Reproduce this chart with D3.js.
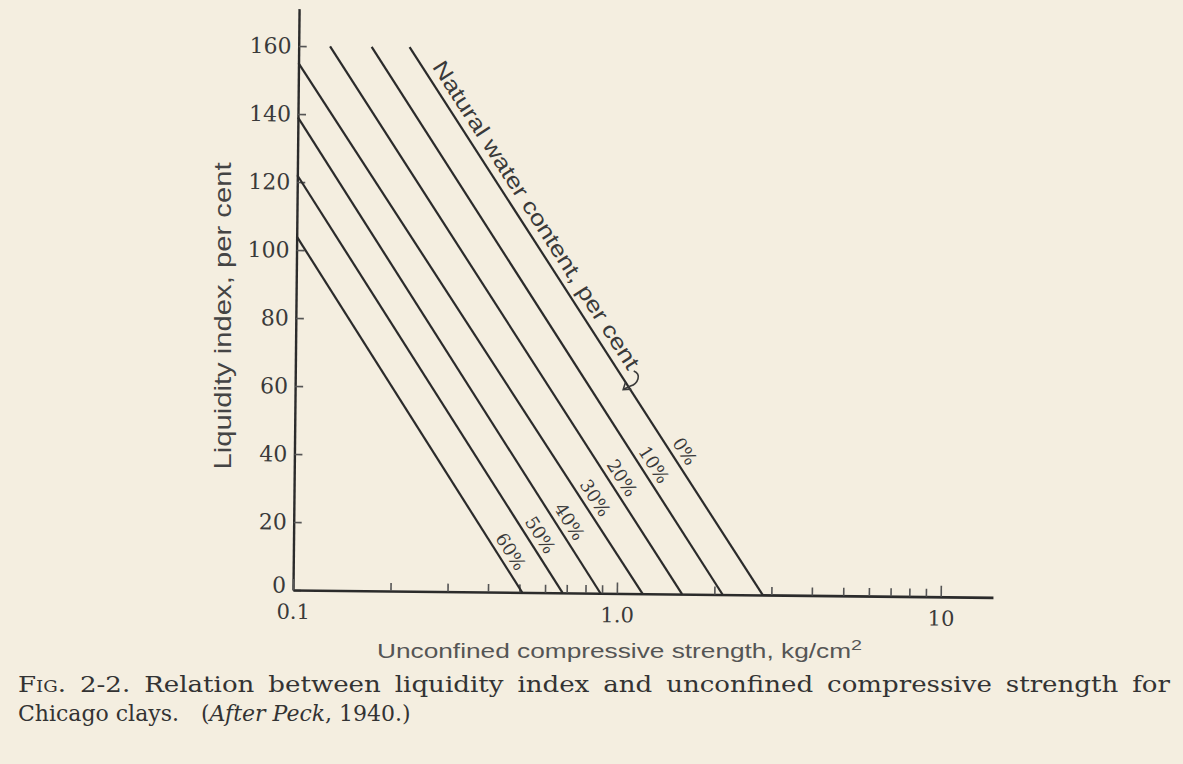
<!DOCTYPE html>
<html>
<head>
<meta charset="utf-8">
<script src="https://cdn.jsdelivr.net/npm/d3@7"></script>
<style>
  html, body { margin: 0; padding: 0; background: #f4eee0; }
  svg { display: block; }
</style>
</head>
<body>
<div id="chart"></div>
<script>
// natural water content curves
const waterContent = ["0%", "10%", "20%", "30%", "40%", "50%", "60%"];
const topStrength = [0.22, 0.168, 0.125, 0.1, 0.1, 0.1, 0.1];
const topIndex = [160, 160, 160, 155, 139, 122, 104];
const baseStrength = [2.82, 2.12, 1.59, 1.2, 0.89, 0.68, 0.51];
const baseIndex = [0, 0, 0, 0, 0, 0, 0];
const labelIndex = [40, 36, 32, 26, 19, 15, 10];

// axes
const yTicks = [0, 20, 40, 60, 80, 100, 120, 140, 160];
const xMajor = [0.1, 1, 10];
const xMajorLabels = ["0.1", "1.0", "10"];
const xMinor = [0.2, 0.3, 0.4, 0.5, 0.6, 0.7, 0.8, 0.9, 2, 3, 4, 5, 6, 7, 8, 9];

const width = 1183, height = 764;
const ink = "#2b2b2b";

let svg = d3.select("#chart")
  .append("svg")
  .attr("width", width)
  .attr("height", height);

svg.append("rect")
  .attr("width", width)
  .attr("height", height)
  .attr("fill", "#f4eee0");

const x = d3.scaleLog().domain([0.1, 14.5]).range([293, 993]);
const y = d3.scaleLinear().domain([0, 171]).range([590, 8.6]);

// the scan is tilted a little
let plot = svg.append("g")
  .attr("transform", "rotate(0.6," + x(0.1) + "," + y(0) + ")");

// y axis, ticks point inward
let yAxis = d3.axisLeft(y)
  .tickValues(yTicks)
  .tickSizeInner(-8)
  .tickSizeOuter(0)
  .tickPadding(7)
  .tickFormat(d3.format("d"));

let gy = plot.append("g")
  .attr("transform", "translate(" + x(0.1) + ",0)")
  .call(yAxis);
gy.select(".domain").attr("stroke", ink).attr("stroke-width", 2.4);
gy.selectAll(".tick line").attr("stroke", "#555").attr("stroke-width", 1.6);
gy.selectAll(".tick text")
  .attr("font-family", "DejaVu Serif, serif")
  .attr("font-size", 22)
  .attr("fill", "#3a3a3a");
// the zero label sits a little higher, clear of 0.1
gy.selectAll(".tick text").filter(d => d === 0).attr("dy", "0.1em");

// x axis: minor ticks then labelled ones
let gxMinor = plot.append("g")
  .attr("transform", "translate(0," + y(0) + ")")
  .call(d3.axisBottom(x).tickValues(xMinor).tickSizeInner(-8).tickSizeOuter(0).tickFormat(""));
gxMinor.select(".domain").attr("stroke", ink).attr("stroke-width", 2.6);
gxMinor.selectAll(".tick line").attr("stroke", "#555").attr("stroke-width", 1.6);

let gxMajor = plot.append("g")
  .attr("transform", "translate(0," + y(0) + ")")
  .call(d3.axisBottom(x).tickValues(xMajor).tickSizeInner(-11).tickSizeOuter(0).tickPadding(14)
    .tickFormat((d, i) => xMajorLabels[i]));
gxMajor.select(".domain").remove();
gxMajor.selectAll(".tick line").attr("stroke", "#555").attr("stroke-width", 1.6);
gxMajor.selectAll(".tick text")
  .attr("font-family", "DejaVu Serif, serif")
  .attr("font-size", 21)
  .attr("fill", "#3a3a3a");

// curves
const line = d3.line()
  .x(d => x(d[0]))
  .y(d => y(d[1]));

const curves = waterContent.map((w, i) => ({
  id: w,
  values: [[topStrength[i], topIndex[i]], [baseStrength[i], baseIndex[i]]],
  label: labelIndex[i]
}));

plot.selectAll("path.curve")
  .data(curves)
  .enter()
  .append("path")
  .attr("class", "curve")
  .attr("d", d => line(d.values))
  .attr("fill", "none")
  .attr("stroke", ink)
  .attr("stroke-width", 2.2);

// point on a curve at a given liquidity index, plus its drawing angle
function pointAt(d, li) {
  const a = d.values[0], b = d.values[1];
  const t = (a[1] - li) / (a[1] - b[1]);
  const lx = Math.log10(a[0]) + t * (Math.log10(b[0]) - Math.log10(a[0]));
  const px = x(Math.pow(10, lx)), py = y(li);
  const ang = Math.atan2(y(b[1]) - y(a[1]), x(b[0]) - x(a[0])) * 180 / Math.PI;
  return {px: px, py: py, ang: ang};
}

plot.selectAll("text.pct")
  .data(curves)
  .enter()
  .append("text")
  .attr("class", "pct")
  .attr("transform", d => {
    const p = pointAt(d, d.label);
    return "translate(" + p.px + "," + p.py + ") rotate(" + p.ang + ")";
  })
  .attr("y", -6)
  .attr("text-anchor", "middle")
  .attr("font-family", "DejaVu Serif, serif")
  .attr("font-size", 18)
  .attr("fill", "#3a3a3a")
  .text(d => d.id);

// "Natural water content" note along the 0% curve
const p0 = pointAt(curves[0], 153);
const noteLen = 362;
let note = plot.append("g")
  .attr("transform", "translate(" + p0.px + "," + p0.py + ") rotate(" + p0.ang + ")");
note.append("text")
  .attr("y", -8)
  .attr("font-family", "Liberation Sans, Arial, sans-serif")
  .attr("font-size", 22)
  .attr("fill", "#3a3a3a")
  .attr("textLength", noteLen)
  .attr("lengthAdjust", "spacingAndGlyphs")
  .text("Natural water content, per cent");
note.append("path")
  .attr("d", "M" + (noteLen + 3) + ",-13 C" + (noteLen + 10) + ",-18 " + (noteLen + 16) + ",-10 " + (noteLen + 14) + ",-2 L" + (noteLen + 13) + ",5")
  .attr("fill", "none")
  .attr("stroke", "#3a3a3a")
  .attr("stroke-width", 1.6);
note.append("path")
  .attr("d", "M" + (noteLen + 8) + ",0 L" + (noteLen + 13) + ",6 L" + (noteLen + 17) + ",-1")
  .attr("fill", "none")
  .attr("stroke", "#3a3a3a")
  .attr("stroke-width", 1.6);

// axis titles
svg.append("text")
  .attr("transform", "translate(231,316) rotate(-90)")
  .attr("text-anchor", "middle")
  .attr("font-family", "Liberation Sans, Arial, sans-serif")
  .attr("font-size", 24)
  .attr("fill", "#444")
  .attr("textLength", 307)
  .attr("lengthAdjust", "spacingAndGlyphs")
  .text("Liquidity index, per cent");

let xt = svg.append("text")
  .attr("x", 377)
  .attr("y", 658)
  .attr("font-family", "Liberation Sans, Arial, sans-serif")
  .attr("font-size", 20)
  .attr("fill", "#555")
  .attr("textLength", 485)
  .attr("lengthAdjust", "spacingAndGlyphs");
xt.append("tspan").text("Unconfined compressive strength, kg/cm");
xt.append("tspan").attr("dy", -8).attr("font-size", 15).text("2");

// caption, first line justified to the full measure
let cap1 = svg.append("text")
  .attr("x", 18)
  .attr("y", 692)
  .attr("font-family", "DejaVu Serif, serif")
  .attr("font-size", 23)
  .attr("fill", "#333")
  .attr("word-spacing", 5)
  .attr("textLength", 1152)
  .attr("lengthAdjust", "spacingAndGlyphs");
cap1.append("tspan").text("F");
cap1.append("tspan").attr("font-size", 16).text("IG");
cap1.append("tspan").text(". 2-2. Relation between liquidity index and unconfined compressive strength for");

let cap2 = svg.append("text")
  .attr("x", 18)
  .attr("y", 721)
  .attr("font-family", "DejaVu Serif, serif")
  .attr("font-size", 22)
  .attr("fill", "#333");
let cap2a = cap2.append("tspan").text("Chicago clays.");
const gapX = 18 + cap2a.node().getComputedTextLength() + 22;
cap2.append("tspan").attr("x", gapX).text("(");
cap2.append("tspan").attr("font-style", "italic").text("After Peck");
cap2.append("tspan").text(", 1940.)");
</script>
</body>
</html>
